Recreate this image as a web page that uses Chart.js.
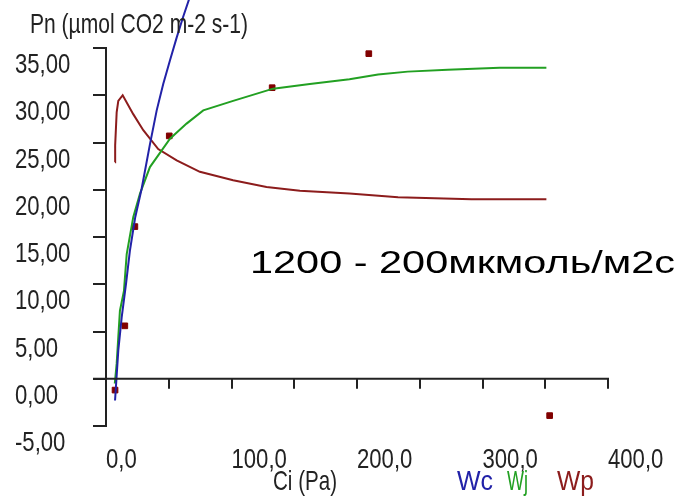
<!DOCTYPE html>
<html>
<head>
<meta charset="utf-8">
<script src="https://cdn.jsdelivr.net/npm/chart.js@4/dist/chart.umd.min.js"></script>
<style>
  html, body { margin: 0; padding: 0; background: #fff; }
  #wrap { width: 687px; height: 497px; }
</style>
</head>
<body>
<div id="wrap"><canvas id="ci" width="687" height="497"></canvas></div>
<script>
// measured points (Ci, Pn)
const measCi = [7.2, 15.0, 23.0, 50.4, 132.4, 209.4, 353.5]
const measPn = [-1.2, 5.6, 16.1, 25.7, 30.8, 34.4, -3.9]

// Wc - rubisco limited
const wcCi = [7.2, 9.8, 12.5, 15.9, 19.1, 23.3, 28.4, 35.0, 40.4, 45.6, 51.0, 56.3, 61.5, 66.3, 68.0]
const wcPn = [-2.3, 3.0, 6.5, 10.0, 13.6, 17.1, 20.1, 24.8, 28.4, 31.2, 33.7, 36.1, 38.3, 40.2, 41.0]

// Wj - light limited
const wjCi = [7.0, 8.5, 9.8, 11.1, 14.3, 16.5, 21.7, 27.1, 35.0, 51.0, 64.2, 77.5, 101.3, 133.2, 162.4, 194.0, 216.8, 240.4, 272.3, 313.7, 350.9]
const wjPn = [-0.5, 1.6, 4.4, 7.2, 9.3, 13.2, 17.1, 19.6, 22.4, 25.4, 27.0, 28.4, 29.4, 30.7, 31.2, 31.7, 32.2, 32.5, 32.7, 32.9, 32.9]

// Wp - TPU limited
const wpCi = [7.2, 7.3, 8.5, 9.8, 13.3, 21.7, 29.7, 41.6, 56.3, 74.8, 101.3, 127.9, 154.5, 194.0, 232.7, 291.2, 350.9]
const wpPn = [22.9, 24.7, 28.2, 29.4, 30.0, 28.0, 26.3, 24.3, 23.1, 21.9, 21.0, 20.3, 19.9, 19.6, 19.2, 19.0, 19.0]

const xTickValues = [0, 100, 200, 300, 400]
const xTickLabels = ['0,0', '100,0', '200,0', '300,0', '400,0']
const yTickValues = [-5, 0, 5, 10, 15, 20, 25, 30, 35]
const yTickLabels = ['-5,00', '0,00', '5,00', '10,00', '15,00', '20,00', '25,00', '30,00', '35,00']
const legendNames = ['Wc', 'Wj', 'Wp']
const legendColors = ['#2222a8', '#22a022', '#8c1c1c']

const sansFont = '28px "Liberation Sans", Arial, sans-serif'
const axisColor = '#222'
const squeeze = 0.79   // the axis font in the picture is narrow

function pairs(xs, ys) {
    return xs.map((x, i) => ({ x: x, y: ys[i] }))
}

// draw text with a horizontal scale factor
function scaledText(ctx, text, x, y, sx, font, color) {
    ctx.save()
    ctx.font = font
    ctx.fillStyle = color
    ctx.textBaseline = 'alphabetic'
    ctx.textAlign = 'left'
    ctx.translate(x, y)
    ctx.scale(sx, 1)
    ctx.fillText(text, 0, 0)
    ctx.restore()
}

// draw text squeezed/stretched to a given width
function fitText(ctx, text, x, y, w, font, color) {
    ctx.save()
    ctx.font = font
    const m = ctx.measureText(text).width
    ctx.restore()
    scaledText(ctx, text, x, y, w / m, font, color)
}

const extras = {
    id: 'extras',
    afterDraw(chart) {
        const ctx = chart.ctx
        const xs = chart.scales.x
        const ys = chart.scales.y
        const y0 = ys.getPixelForValue(0)
        // x axis line at Pn = 0 with ticks every 50
        ctx.save()
        ctx.strokeStyle = axisColor
        ctx.lineWidth = 2
        ctx.beginPath()
        ctx.moveTo(xs.left - 13, y0)
        ctx.lineTo(xs.getPixelForValue(400) + 1, y0)
        for (let v = 50; v <= 400; v += 50) {
            const px = Math.round(xs.getPixelForValue(v))
            ctx.moveTo(px, y0)
            ctx.lineTo(px, y0 + 10)
        }
        ctx.stroke()
        ctx.restore()

        // tick labels
        yTickValues.forEach((v, i) => {
            scaledText(ctx, yTickLabels[i], 15, ys.getPixelForValue(v) + 25, squeeze, sansFont, axisColor)
        })
        xTickValues.forEach((v, i) => {
            scaledText(ctx, xTickLabels[i], xs.getPixelForValue(v), 468, squeeze, sansFont, axisColor)
        })

        fitText(ctx, 'Pn (µmol CO2 m-2 s-1)', 30, 33, 218, sansFont, axisColor)
        fitText(ctx, 'Ci (Pa)', 273, 490, 64, sansFont, axisColor)
        fitText(ctx, legendNames[0], 457, 490, 36, sansFont, legendColors[0])
        fitText(ctx, legendNames[1], 507, 490, 21, sansFont, legendColors[1])
        fitText(ctx, legendNames[2], 557, 490, 37, sansFont, legendColors[2])
        fitText(ctx, '1200 - 200мкмоль/м2с', 250, 273, 425, '32px "Liberation Sans", Arial, sans-serif', '#000')
    }
}

new Chart(document.getElementById('ci'), {
    type: 'scatter',
    data: {
        datasets: [{
            label: 'Wc',
            data: pairs(wcCi, wcPn),
            showLine: true,
            borderColor: legendColors[0],
            borderWidth: 2,
            pointRadius: 0,
            clip: false
        }, {
            label: 'Wj',
            data: pairs(wjCi, wjPn),
            showLine: true,
            borderColor: legendColors[1],
            borderWidth: 2,
            pointRadius: 0
        }, {
            label: 'Wp',
            data: pairs(wpCi, wpPn),
            showLine: true,
            borderColor: legendColors[2],
            borderWidth: 2,
            pointRadius: 0
        }, {
            label: 'measured',
            data: pairs(measCi, measPn),
            pointStyle: 'rect',
            pointRadius: 4,
            backgroundColor: '#800000',
            borderColor: '#800000',
            clip: false
        }]
    },
    options: {
        responsive: false,
        animation: false,
        layout: { padding: { left: 15, top: 48, right: 79, bottom: 0 } },
        plugins: { legend: { display: false }, tooltip: { enabled: false } },
        scales: {
            x: {
                type: 'linear',
                min: 0,
                max: 400,
                afterFit(s) { s.height = 71 },
                grid: { display: false, drawTicks: false },
                border: { display: false },
                ticks: { display: false, stepSize: 50 }
            },
            y: {
                min: -5,
                max: 35,
                afterFit(s) { s.width = 91 },
                grid: { drawOnChartArea: false, tickLength: 13, tickColor: axisColor, lineWidth: 2 },
                border: { color: axisColor, width: 2 },
                ticks: { display: false, stepSize: 5 }
            }
        }
    },
    plugins: [extras]
})
</script>
</body>
</html>
